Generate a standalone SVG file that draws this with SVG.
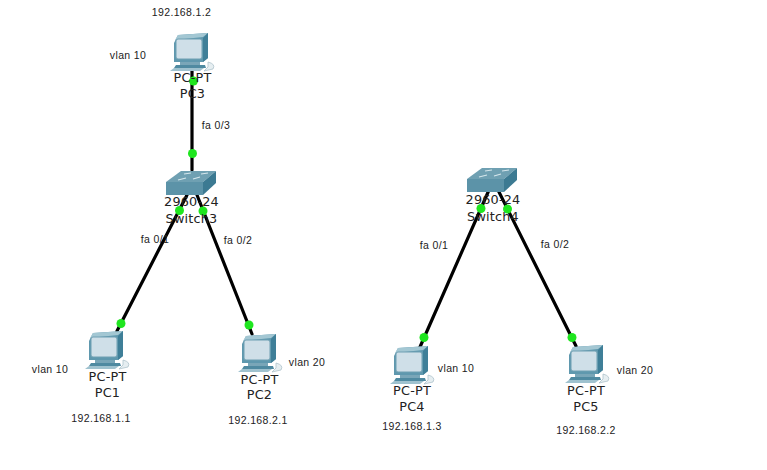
<svg xmlns="http://www.w3.org/2000/svg" width="767" height="470" viewBox="0 0 767 470">
<style>
text{font-family:"DejaVu Sans","Liberation Sans",sans-serif;font-size:12.8px;letter-spacing:.2px;fill:#222;text-anchor:middle}
.s{font-size:10.5px;letter-spacing:.35px;font-family:"Liberation Sans",sans-serif}
.l{stroke:#000;stroke-width:3.2;fill:none;stroke-linecap:round}
.d{fill:#1fe61f}
</style>
<defs>
<g id="pc">
<path d="M4 10 L8 2 L38 0 L38 25 L33 29 L4 29Z" fill="#5f98ae"/>
<path d="M8 2 L38 0 L33 4 L5 7Z" fill="#a3c7d3"/>
<rect x="6" y="6" width="26" height="20" rx="2" fill="#cfdfe8" stroke="#6f9fb2"/>
<path d="M33 5 L38 0 L38 25 L33 29Z" fill="#3f7f98"/>
<path d="M10 29 L30 29 L30 32 L10 32Z" fill="#79a6b8"/>
<path d="M6 32 L35 32 L36 35 L4 35Z" fill="#4f8aa1"/>
<path d="M4 35 L34 35 L30 38 L0 38Z" fill="#9fc2cf"/>
<path d="M38 29 Q46 31 43 36 L34 38 L38 34Z" fill="#e6eef1" stroke="#a5bcc6" stroke-width=".7"/>
</g>
<g id="sw">
<path d="M0 11 L15 0 L50 0 L37 11Z" fill="#6fa0b2"/>
<path d="M0 11 L37 11 L37 24 L0 24Z" fill="#5c93a8"/>
<path d="M37 11 L50 0 L50 12 L37 24Z" fill="#3c7a92"/>
<path d="M12 9 l8 -2 M27 8 l7 -2 M18 3 l7 -1 M35 3 l7 -1" stroke="#d5e6ec" stroke-width="1.2"/>
</g>
</defs>
<g id="connectors">
<line class="l" x1="192" y1="70" x2="192" y2="170"/>
<line class="l" x1="187" y1="195" x2="117" y2="331"/>
<line class="l" x1="197" y1="195" x2="252" y2="334"/>
<line class="l" x1="489" y1="190" x2="420" y2="347"/>
<line class="l" x1="498" y1="190" x2="576" y2="346"/>
<circle class="d" cx="193.500" cy="81" r="4.500"/>
<circle class="d" cx="192.500" cy="153.500" r="4.500"/>
<circle class="d" cx="179.500" cy="210.500" r="4.500"/>
<circle class="d" cx="203" cy="211" r="4.500"/>
<circle class="d" cx="121" cy="323.500" r="4.500"/>
<circle class="d" cx="249" cy="325" r="4.500"/>
<circle class="d" cx="481" cy="208.500" r="4.500"/>
<circle class="d" cx="507.500" cy="209" r="4.500"/>
<circle class="d" cx="424" cy="337.500" r="4.500"/>
<circle class="d" cx="572" cy="337.500" r="4.500"/>
</g>
<g id="PC3"><use href="#pc" x="170" y="33"/><text x="192.500" y="82">PC-PT</text><text x="192.500" y="98">PC3</text></g>
<g id="Switch3"><use href="#sw" x="166" y="171"/><text x="191.500" y="206">2960-24</text><text x="191.500" y="223">Switch3</text></g>
<g id="Switch4"><use href="#sw" x="467" y="168"/><text x="493" y="204">2960-24</text><text x="493" y="221">Switch4</text></g>
<g id="PC1"><use href="#pc" x="85" y="331"/><text x="107.500" y="381">PC-PT</text><text x="107.500" y="397">PC1</text></g>
<g id="PC2"><use href="#pc" x="238" y="334"/><text x="259.500" y="384">PC-PT</text><text x="259.500" y="399">PC2</text></g>
<g id="PC4"><use href="#pc" x="390" y="346"/><text x="412" y="395">PC-PT</text><text x="412" y="411">PC4</text></g>
<g id="PC5"><use href="#pc" x="565" y="345"/><text x="586" y="395">PC-PT</text><text x="586" y="411">PC5</text></g>
<g id="labels">
<text class="s" x="181.500" y="16">192.168.1.2</text>
<text class="s" x="128" y="59">vlan 10</text>
<text class="s" x="216" y="129">fa 0/3</text>
<text class="s" x="155" y="243">fa 0/1</text>
<text class="s" x="238" y="244">fa 0/2</text>
<text class="s" x="434" y="249">fa 0/1</text>
<text class="s" x="555" y="248">fa 0/2</text>
<text class="s" x="50" y="373">vlan 10</text>
<text class="s" x="307" y="366">vlan 20</text>
<text class="s" x="456" y="372">vlan 10</text>
<text class="s" x="635" y="374">vlan 20</text>
<text class="s" x="101" y="422">192.168.1.1</text>
<text class="s" x="258" y="424">192.168.2.1</text>
<text class="s" x="412" y="430">192.168.1.3</text>
<text class="s" x="586" y="434">192.168.2.2</text>
</g>
</svg>
